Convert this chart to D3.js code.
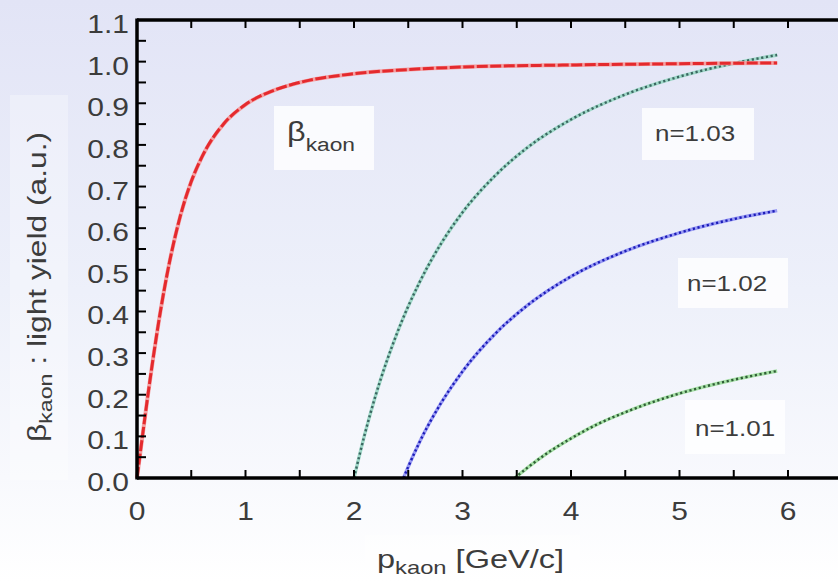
<!DOCTYPE html>
<html><head><meta charset="utf-8">
<script src="https://cdn.jsdelivr.net/npm/d3@7"></script>
<style>body{margin:0;background:#fff}svg{display:block}text{font-family:"Liberation Sans",Arial,sans-serif}</style>
</head><body>
<svg id="c" width="838" height="582"></svg>
<script>
// ---- data ----
const betaP   = [0,0.05,0.1,0.15,0.2,0.3,0.4,0.5,0.6,0.8,1.0,1.25,1.5,2.0,2.5,3.0,4.0,5.0,5.9];
const betaV   = [0,0.10,0.198,0.29,0.375,0.519,0.63,0.712,0.772,0.851,0.897,0.930,0.950,0.971,0.981,0.987,0.992,0.995,0.997];
const n103P   = [2.0,2.1,2.2,2.4,2.6,2.8,3.0,3.3,3.6,4.0,4.5,5.0,5.5,5.9];
const n103V   = [0,0.106,0.199,0.350,0.468,0.562,0.638,0.726,0.794,0.861,0.921,0.964,0.996,1.016];
const n102P   = [2.456,2.5,2.6,2.8,3.0,3.3,3.6,4.0,4.5,5.0,5.5,5.9];
const n102V   = [0,0.027,0.084,0.179,0.256,0.346,0.415,0.484,0.545,0.589,0.622,0.642];
const n101P   = [3.482,3.6,3.8,4.0,4.25,4.5,5.0,5.5,5.9];
const n101V   = [0,0.025,0.063,0.095,0.130,0.158,0.203,0.236,0.257];
const xTicks  = [0,1,2,3,4,5,6];
const yTicks  = [0,0.1,0.2,0.3,0.4,0.5,0.6,0.7,0.8,0.9,1.0,1.1];
const labels  = ["n=1.03","n=1.02","n=1.01"];

const svg = d3.select("#c");
const defs = svg.append("defs");
const g = defs.append("linearGradient").attr("id","bg").attr("x1",0).attr("y1",0).attr("x2",0).attr("y2",1);
g.append("stop").attr("offset","0%").attr("stop-color","#e2e4f6");
g.append("stop").attr("offset","50%").attr("stop-color","#edf0fa");
g.append("stop").attr("offset","82%").attr("stop-color","#f8f9fd");
g.append("stop").attr("offset","100%").attr("stop-color","#ffffff");
svg.append("rect").attr("width",838).attr("height",582).attr("fill","url(#bg)");

const x = d3.scaleLinear().domain([0,6]).range([137,788]);
const y = d3.scaleLinear().domain([0,1.1]).range([478,20]);
const X1 = 838;
const TXT = "#3c3c3c";

// soft white boxes behind texts
const box=(x0,y0,w,h,o)=>svg.append("rect").attr("x",x0).attr("y",y0).attr("width",w).attr("height",h).attr("fill","#fff").attr("opacity",o);
box(10,95,58,385,0.3);
box(365,535,215,47,0.4);
box(274,106,100,64,0.8);
box(642,108,112,52,0.8);
box(678,258,110,50,0.8);
box(685,400,100,54,0.8);

// curves
const line = d3.line().x(d=>x(d[0])).y(d=>y(d[1])).curve(d3.curveMonotoneX);
const zip=(a,b)=>a.map((v,i)=>[v,b[i]]);
function dotted(P,V,light,dark){
  const d = line(zip(P,V));
  svg.append("path").attr("d",d).attr("fill","none").attr("stroke",light).attr("stroke-width",3.4);
  svg.append("path").attr("d",d).attr("fill","none").attr("stroke",dark).attr("stroke-width",2.4)
     .attr("stroke-dasharray","2.2 2.6");
}
dotted(n103P,n103V,"#9fd8c8","#3a6660");
dotted(n102P,n102V,"#9a9cf4","#1c1cb8");
dotted(n101P,n101V,"#a6e0a6","#2f5d36");
svg.append("path").attr("d",line(zip(betaP,betaV))).attr("fill","none").attr("stroke","#f4a0a2").attr("stroke-width",4);
svg.append("path").attr("d",line(zip(betaP,betaV))).attr("fill","none").attr("stroke","#e42a2e").attr("stroke-width",3)
   .attr("stroke-dasharray","11 2.5");

// axes
const ax = svg.append("g").attr("stroke","#000").attr("fill","none");
ax.append("line").attr("x1",137).attr("x2",X1).attr("y1",478).attr("y2",478).attr("stroke-width",3.5);
ax.append("line").attr("x1",137).attr("x2",X1).attr("y1",20).attr("y2",20).attr("stroke-width",3.5);
ax.append("line").attr("x1",137).attr("x2",137).attr("y1",18.5).attr("y2",479.5).attr("stroke-width",3.5);
d3.range(0,6.01,0.5).forEach(v=>{
  ax.append("line").attr("x1",x(v)).attr("x2",x(v)).attr("y1",478).attr("y2",470).attr("stroke-width",2);
  ax.append("line").attr("x1",x(v)).attr("x2",x(v)).attr("y1",20).attr("y2",28).attr("stroke-width",2);
});
d3.range(0,1.101,0.05).forEach(v=>{
  ax.append("line").attr("x1",137).attr("x2",146).attr("y1",y(v)).attr("y2",y(v)).attr("stroke-width",2);
});

// text helper with horizontal stretch
function T(px,py,size,sx,anchor,rot){
  const tr = rot ? `translate(${px},${py}) rotate(${rot}) scale(${sx},1)` : `translate(${px},${py}) scale(${sx},1)`;
  return svg.append("text").attr("transform",tr).attr("font-size",size).attr("fill",TXT).attr("text-anchor",anchor||"start");
}

yTicks.forEach(d=>T(129,y(d)+13,25,1.2,"end").text(d.toFixed(1)));
xTicks.forEach(d=>T(x(d),520,25,1.2,"middle").text(d));

// axis titles
const xt = T(377,568,26,1.25);
xt.append("tspan").text("p");
xt.append("tspan").attr("font-size",19).attr("dy",6).text("kaon");
xt.append("tspan").attr("dy",-6).text(" [GeV/c]");

const yt = T(46,287,26,1.22,"middle",-90);
yt.append("tspan").text("β");
yt.append("tspan").attr("font-size",19).attr("dy",6).text("kaon");
yt.append("tspan").attr("dy",-6).text("  :  light yield (a.u.)");

// in-plot labels
const bl = T(287,141,27,1.2);
bl.append("tspan").text("β");
bl.append("tspan").attr("font-size",19).attr("dy",10).text("kaon");
const lp = [[655,141],[687,291],[695,436]];
labels.forEach((d,i)=>T(lp[i][0],lp[i][1],22,1.18).text(d));
</script>
</body></html>
